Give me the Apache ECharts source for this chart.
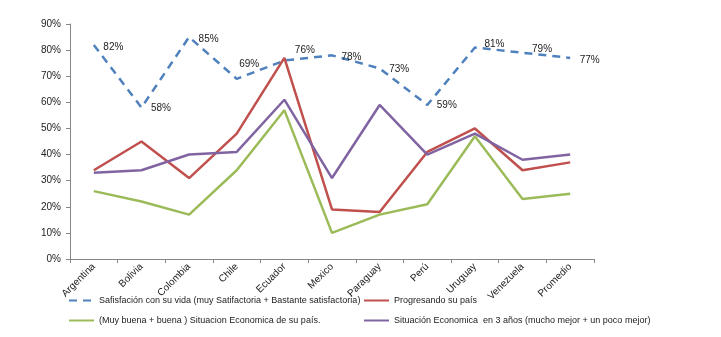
<!DOCTYPE html>
<html>
<head>
<meta charset="utf-8">
<script src="https://cdn.jsdelivr.net/npm/echarts@6/dist/echarts.min.js"></script>
<style>
  html, body { margin: 0; padding: 0; background: #fff; }
  #chart { width: 721px; height: 337px; }
</style>
</head>
<body>
<div id="chart"></div>
<script>
// Countries plus the regional average
const categories = ['Argentina', 'Bolivia', 'Colombia', 'Chile', 'Ecuador', 'Mexico',
  'Paraguay', 'Perú', 'Uruguay', 'Venezuela', 'Promedio'];

const seriesNames = [
  'Safisfación con su vida (muy Satifactoria + Bastante satisfactoria)',
  'Progresando su país',
  '(Muy buena + buena ) Situacion Economica de su país.',
  'Situación Economica  en 3 años (mucho mejor + un poco mejor)'
];

// Percentages
const satisfaccion = [82, 58, 85, 69, 76, 78, 73, 59, 81, 79, 77];
const progresando  = [34, 45, 31, 48, 77, 19, 18, 41, 50, 34, 37];
const situacionEco = [26, 22, 17, 34, 57, 10, 17, 21, 47, 23, 25];
const situacion3   = [33, 34, 40, 41, 61, 31, 59, 40, 48, 38, 40];

const yTicks = [0, 10, 20, 30, 40, 50, 60, 70, 80, 90];

const FONT = 'Liberation Sans, Arial, sans-serif';
const colors = ['#4F81BD', '#C0504D', '#9BBB59', '#8064A2'];

// Small per-point label nudges so the value labels clear the dashed line
const labelNudge = {
  0: [0, 2], 1: [0, 1], 2: [0, 2], 3: [-7, -15], 4: [1, -10],
  5: [0, 2], 6: [0, 1], 8: [0, -3], 9: [0, -3], 10: [0, 2]
};

function lineSeries(name, data, color, dashed, labelled) {
  return {
    name: name,
    type: 'line',
    data: labelled ? data.map((v, i) => ({
      value: v,
      label: labelNudge[i] ? { offset: labelNudge[i] } : undefined
    })) : data,
    symbol: 'circle',
    symbolSize: 1,
    showSymbol: labelled,
    itemStyle: { color: 'rgba(0,0,0,0)', borderWidth: 0 },
    color: color,
    lineStyle: { color: color, width: 2.5, type: dashed ? [8, 6] : 'solid' },
    label: labelled ? {
      show: true, position: 'right', distance: 9, opacity: 1,
      formatter: '{c}%', fontFamily: FONT, fontSize: 10, color: '#222'
    } : { show: false },
    emphasis: { disabled: true },
    z: labelled ? 1 : 2
  };
}

const legendCommon = {
  orient: 'vertical', itemWidth: 25, itemHeight: 10, itemGap: 11,
  itemStyle: { opacity: 0 },
  textStyle: { fontFamily: FONT, fontSize: 9, color: '#222' },
  padding: 0
};

const chart = echarts.init(document.getElementById('chart'), null, { renderer: 'canvas' });
chart.setOption({
  animation: false,
  backgroundColor: '#fff',
  grid: { left: 70, right: 127, top: 24, bottom: 78, containLabel: false },
  legend: [
    Object.assign({ left: 68, top: 296, data: [seriesNames[0], seriesNames[2]] }, legendCommon),
    Object.assign({ left: 363, top: 296, data: [seriesNames[1], seriesNames[3]] }, legendCommon)
  ],
  xAxis: {
    type: 'category',
    data: categories,
    boundaryGap: true,
    axisLine: { lineStyle: { color: '#868686', width: 1 } },
    axisTick: { show: true, alignWithLabel: false, length: 4, lineStyle: { color: '#868686' } },
    axisLabel: { rotate: 45, interval: 0, margin: 6, fontFamily: FONT, fontSize: 10, color: '#222' }
  },
  yAxis: {
    type: 'value',
    min: yTicks[0], max: yTicks[yTicks.length - 1], interval: 10,
    axisLine: { show: true, lineStyle: { color: '#868686', width: 1 } },
    axisTick: { show: true, length: 4, lineStyle: { color: '#868686' } },
    splitLine: { show: false },
    axisLabel: { formatter: '{value}%', margin: 9, fontFamily: FONT, fontSize: 10, color: '#222' }
  },
  series: [
    lineSeries(seriesNames[0], satisfaccion, colors[0], true, true),
    lineSeries(seriesNames[1], progresando, colors[1], false, false),
    lineSeries(seriesNames[2], situacionEco, colors[2], false, false),
    lineSeries(seriesNames[3], situacion3, colors[3], false, false)
  ]
});
</script>
</body>
</html>
